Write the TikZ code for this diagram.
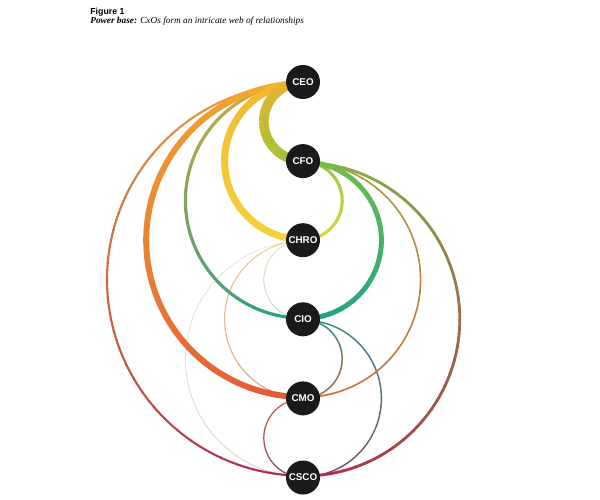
\documentclass[tikz,border=0pt]{standalone}
\usepackage{fontspec}
\setmainfont{Liberation Serif}
\setsansfont{Liberation Sans}
\usetikzlibrary{calc,positioning}
\pgfdeclarelayer{bg}
\pgfsetlayers{bg,main}

\definecolor{nodeblack}{HTML}{1A1A1A}

\tikzset{
  cxo/.style={circle, fill=nodeblack, text=white, minimum size=0.68cm, inner sep=0pt,
    font=\sffamily\bfseries\fontsize{5.6}{6}\selectfont},
  caption/.style={anchor=base west, inner sep=0pt},
}

% arc between two nodes, split into pieces so the colour can fade
% #1 from, #2 to, #3 steps apart, #4 side (1 left, -1 right), #5 width, #6/#7 colours
\newcommand{\relarc}[7]{%
  \definecolor{arcfrom}{HTML}{#6}%
  \definecolor{arcto}{HTML}{#7}%
  \pgfmathsetmacro{\arcr}{#3*0.784}
  \pgfmathsetmacro{\dang}{#4*5.4}
  \foreach \k in {0,...,35}{
    \pgfmathsetmacro{\ang}{90+#4*\k*5}
    \pgfmathtruncatemacro{\mixp}{(\k+0.5)*100/36}
    \draw[line width=#5, color=arcto!\mixp!arcfrom]
      ($(#1)!0.5!(#2)$) ++(\ang:\arcr) arc[start angle=\ang, delta angle=\dang, radius=\arcr];
  }
}

\begin{document}
\begin{tikzpicture}[node distance=0.888cm]
  \useasboundingbox (0,0) rectangle (12,-10);

  \node[caption, font=\sffamily\bfseries\fontsize{5}{6}\selectfont] (fig) at (1.8,-0.3) {Figure 1};
  \node[caption, font=\itshape\fontsize{5.3}{6}\selectfont] (title) at (1.8,-0.48)
    {\bfseries Power base: \mdseries CxOs form an intricate web of relationships};

  \node[cxo] (ceo) at (6.06,-1.64) {CEO};
  \node[cxo, below=of ceo] (cfo) {CFO};
  \node[cxo, below=of cfo] (chro) {CHRO};
  \node[cxo, below=of chro] (cio) {CIO};
  \node[cxo, below=of cio] (cmo) {CMO};
  \node[cxo, below=of cmo] (csco) {CSCO};

  \begin{pgfonlayer}{bg}
    % faint ones
    \relarc{chro}{csco}{3}{1}{0.4pt}{F3EAC8}{DDBFC6}
    \relarc{chro}{cio}{1}{1}{0.45pt}{F2E8A6}{B4C8CC}
    \relarc{chro}{cmo}{2}{1}{0.6pt}{F0D9A0}{D89878}
    \relarc{cmo}{csco}{1}{1}{0.7pt}{D0643F}{8C3A66}
    \relarc{cio}{csco}{2}{-1}{0.8pt}{2A9488}{8C3C6C}
    \relarc{cio}{cmo}{1}{-1}{0.9pt}{2A9A8A}{C8663C}
    \relarc{cfo}{cmo}{3}{-1}{0.9pt}{9AAA3C}{D5663A}
    % stronger ones
    \relarc{ceo}{csco}{5}{1}{1.2pt}{EDAA3A}{A82650}
    \relarc{cfo}{csco}{4}{-1}{1.6pt}{82BA44}{B0264E}
    \relarc{cfo}{chro}{1}{-1}{1.8pt}{8DC43F}{E8D84A}
    \relarc{ceo}{cio}{3}{1}{1.8pt}{EEAA35}{1A9E8C}
    \relarc{cfo}{cio}{2}{-1}{2.8pt}{7DC043}{16A08F}
    \relarc{ceo}{cmo}{4}{1}{3.4pt}{F2B02C}{E4533A}
    \relarc{ceo}{chro}{2}{1}{4pt}{F2B52C}{F6D640}
    \relarc{ceo}{cfo}{1}{1}{5.5pt}{F0B22A}{9CC23A}
  \end{pgfonlayer}
\end{tikzpicture}
\end{document}
